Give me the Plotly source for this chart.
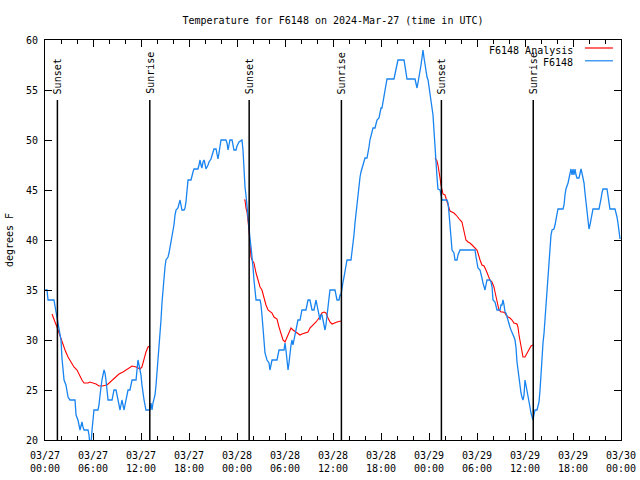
import plotly.graph_objects as go
from datetime import datetime, timedelta

START = datetime(2024, 3, 27, 0, 0)

# Observed station temperature (hours since 2024-03-27 00:00 UTC, degrees F)
obs_hours = [0.0, 0.25, 0.38, 1.12, 1.38, 1.62, 1.88, 2.0, 2.12, 2.38, 2.62, 2.88, 3.12, 3.75, 3.88, 4.12, 4.38, 4.62, 4.75, 4.88,
             5.38, 5.5, 5.62, 5.75, 5.88, 6.0, 6.12, 6.62, 6.75, 6.88, 7.0, 7.12, 7.38, 7.5, 7.62, 7.75, 7.88, 8.38, 8.5, 8.62,
             8.88, 9.0, 9.12, 9.25, 9.38, 9.5, 9.62, 9.75, 9.88, 10.0, 10.12, 10.25, 10.38, 10.62, 10.75, 10.88, 11.38, 11.5, 11.62, 11.75,
             11.88, 12.0, 12.12, 12.25, 12.38, 12.62, 13.12, 13.25, 13.38, 13.5, 13.75, 13.88, 14.0, 14.12, 14.25, 14.38, 14.5, 14.62, 14.75, 14.88,
             15.0, 15.12, 15.38, 15.5, 15.62, 15.75, 15.88, 16.0, 16.12, 16.25, 16.38, 16.62, 16.75, 16.88, 17.0, 17.12, 17.38, 17.5, 17.62, 17.75,
             17.88, 18.25, 18.38, 18.5, 18.62, 19.12, 19.25, 19.38, 19.5, 19.62, 19.75, 19.88, 20.0, 20.12, 20.38, 20.5, 20.75, 21.0, 21.12, 21.38,
             21.5, 21.62, 21.75, 21.88, 22.0, 22.62, 22.75, 22.88, 23.0, 23.12, 23.38, 23.5, 23.62, 23.88, 24.0, 24.25, 24.5, 24.62, 24.75, 24.88,
             25.0, 25.12, 25.25, 25.38, 25.5, 25.62, 25.75, 25.88, 26.0, 26.12, 26.25, 26.38, 26.88, 27.0, 27.12, 27.25, 27.38, 27.5, 27.75, 28.0,
             28.12, 28.25, 28.38, 29.0, 29.12, 29.25, 29.88, 30.0, 30.12, 30.25, 30.38, 30.5, 30.62, 30.75, 30.88, 31.0, 31.12, 31.25, 31.38, 31.5,
             31.62, 31.88, 32.0, 32.12, 32.62, 32.75, 32.88, 33.12, 33.25, 33.38, 33.62, 33.75, 33.88, 34.0, 34.12, 34.25, 34.38, 34.5, 34.62, 34.75,
             34.88, 35.0, 35.12, 35.25, 35.38, 35.5, 35.62, 36.25, 36.38, 36.5, 36.75, 36.88, 37.0, 37.12, 37.25, 37.38, 37.5, 37.62, 37.75, 38.25,
             38.38, 38.5, 38.62, 38.75, 38.88, 39.0, 39.12, 39.25, 39.38, 39.5, 39.62, 39.75, 39.88, 40.0, 40.25, 40.38, 40.5, 40.62, 40.75, 40.88,
             41.0, 41.25, 41.38, 41.5, 41.75, 41.88, 42.0, 42.12, 42.25, 42.38, 42.5, 42.62, 42.75, 43.62, 43.75, 43.88, 44.0, 44.12, 44.88, 45.0,
             45.12, 45.25, 46.25, 46.38, 46.5, 46.62, 46.75, 46.88, 47.0, 47.12, 47.25, 47.38, 47.5, 47.62, 47.75, 47.88, 48.0, 48.12, 48.25, 48.38,
             48.5, 48.62, 48.75, 48.88, 49.0, 49.12, 49.38, 49.5, 49.62, 50.25, 50.38, 50.5, 50.62, 50.75, 50.88, 51.12, 51.25, 51.5, 51.62, 51.88,
             53.75, 53.88, 54.0, 54.12, 54.38, 54.5, 54.62, 54.75, 54.88, 55.0, 55.12, 55.25, 55.62, 55.75, 55.88, 56.0, 56.25, 56.38, 56.5, 56.88,
             57.0, 57.12, 57.25, 57.38, 57.5, 57.62, 57.75, 57.88, 58.0, 58.12, 58.25, 58.38, 58.5, 58.62, 58.75, 58.88, 59.0, 59.12, 59.25, 59.38,
             59.5, 59.62, 59.75, 59.88, 60.0, 60.12, 60.25, 60.38, 60.5, 60.62, 60.75, 60.88, 61.0, 61.12, 61.25, 61.5, 61.62, 61.75, 61.88, 62.0,
             62.12, 62.25, 62.38, 62.5, 62.62, 62.75, 62.88, 63.0, 63.12, 63.25, 63.38, 63.62, 63.75, 63.88, 64.0, 64.12, 64.75, 64.88, 65.0, 65.12,
             65.38, 65.5, 65.62, 65.75, 65.88, 66.0, 66.12, 66.25, 66.38, 66.5, 66.75, 66.88, 67.0, 67.12, 67.25, 67.38, 67.5, 67.62, 67.75, 67.88,
             68.0, 68.12, 68.25, 68.38, 68.5, 69.25, 69.38, 69.5, 69.62, 69.75, 70.25, 70.38, 70.5, 70.62, 71.25, 71.38, 71.5, 71.62, 71.75, 71.88]
obs_temps = [35, 35, 34, 34, 32.8, 31.8, 30.8, 30, 28.2, 26, 25.5, 24.3, 24, 24, 22.5, 22, 21, 21.8, 21.3, 21,
             21, 20.5, 19.5, 19.5, 21, 22.5, 23, 23, 23.5, 24.5, 25.5, 26, 27, 26.7, 26, 25, 24, 24, 24.5, 25,
             25, 24.5, 24, 23.5, 23, 23.5, 24, 23.5, 23, 23.5, 24, 24.5, 25, 25, 25.5, 26, 26, 27, 28, 27.5,
             27, 26.5, 25.5, 24.5, 24, 23, 23, 23.7, 23, 23.7, 24.5, 25.5, 26.7, 27.7, 29.2, 30.7, 32, 33.7, 35.2, 36.5,
             37.3, 38, 38.3, 38.7, 39.2, 39.8, 40.3, 40.8, 41.5, 42.5, 43, 43.2, 43.7, 44, 43.5, 43, 43, 43.2, 43.8, 44.7,
             46, 46, 46.3, 46.8, 47.1, 47.1, 47.5, 48, 47.5, 47.2, 47.8, 48, 47.6, 47.1, 47.5, 47.8, 48.1, 48.7, 49.1, 49.1,
             48.7, 48.1, 48.7, 49.7, 50, 50, 49.7, 49, 49.6, 50, 50, 49.6, 49, 49, 49.4, 49.8, 50, 50, 49, 46.8,
             45.3, 44.5, 43.2, 42, 40.8, 40.2, 39.3, 38.5, 37.3, 36, 34.7, 34, 34, 33.5, 32.5, 31.2, 29.7, 28.7, 28, 27.7,
             27, 27.5, 28, 28, 28.5, 29, 29, 29.7, 29, 27.7, 27, 27.7, 29, 29.5, 30, 29.5, 30, 30.5, 31, 31.5,
             32, 32, 32.5, 33, 33, 33.5, 34, 34, 33.5, 33, 33, 33.5, 34, 33.5, 33, 32.5, 32, 32.5, 32.5, 32,
             31.5, 31, 31.5, 32.5, 33.5, 34.5, 35, 35, 34.5, 34, 34, 34.5, 34.5, 35.3, 35.8, 36.3, 37, 37.5, 38, 38,
             38.7, 39.5, 40.5, 41.7, 42.7, 43.7, 44.7, 45.7, 46.3, 46.8, 47.2, 47.5, 48, 48.2, 48.2, 48.7, 49.3, 50, 50.5, 50.8,
             51.2, 51.2, 51.7, 52, 52.2, 52.8, 53.2, 53.2, 53.8, 54.5, 55.3, 55.8, 56.1, 56.1, 56.7, 57.2, 57.5, 58, 58, 57.5,
             56.7, 56.1, 56.1, 55.7, 55.2, 55.7, 56.2, 56.8, 57.5, 58.2, 59, 58.2, 57.5, 56.8, 56.3, 56, 55.3, 54.7, 54.2, 53.5,
             52.5, 51, 49, 48, 46.3, 45.1, 45, 44.5, 44, 44, 43.7, 42.7, 41.3, 39.7, 39, 38.7, 38, 38, 38.5, 39,
             39, 38.3, 37.7, 37.2, 37, 36.7, 36.2, 35.7, 35.3, 35, 35.5, 36, 36, 35.8, 35.3, 34, 33.8, 33.5, 33, 33,
             33.5, 33.5, 34, 33.5, 32.8, 32.7, 32.3, 31.8, 31.7, 31.3, 31, 30.8, 30.5, 30.3, 30, 29.2, 27.8, 27, 26.5, 25.5,
             24.7, 24.3, 24, 24.5, 26, 25.5, 25, 24.3, 23.7, 23.3, 22.7, 22.3, 22, 22.5, 23, 23, 23.3, 23.8, 25, 27,
             28.5, 29.7, 30.7, 32.2, 33.7, 35.3, 36.7, 38.2, 39.5, 40.5, 41, 41.1, 41.5, 42.2, 42.7, 43.1, 43.1, 43.5, 44.5, 45.1,
             45.7, 46.2, 46.7, 47.1, 46.5, 47.1, 46.5, 47.1, 46.5, 46.2, 46.2, 46.7, 47.1, 46.7, 46.2, 45.7, 44.7, 43.7, 42.7, 41.7,
             41.1, 41.5, 42.2, 42.7, 43.1, 43.1, 43.5, 44.1, 44.7, 45.1, 45.1, 44.3, 43.7, 43.1, 43.1, 42.8, 42.3, 41.7, 40.7, 40.1]

# Analysis temperature (None = gap between nightly analysis periods)
ana_hours = [0.88, 1.0, 1.25, 1.5, 1.75, 2.0, 2.25, 2.5, 2.88, 3.12, 3.62, 4.0, 4.38, 4.62, 4.88, 5.38, 5.62, 6.0, 6.38, 6.75,
             7.12, 7.75, 8.0, 8.38, 8.75, 9.25, 9.75, 10.25, 10.62, 10.88, 11.38, 11.88, 12.12, 12.38, 12.62, 12.88, 13.12, None,
             24.88, 25.0, 25.12, 25.25, 25.5, 25.62, 25.75, 25.88, 26.12, 26.38, 26.62, 26.88, 27.12, 27.38, 27.62, 27.88, 28.38, 28.62, 29.0, 29.25,
             29.5, 29.75, 30.0, 30.25, 30.5, 30.75, 31.0, 31.5, 31.88, 32.12, 32.5, 32.88, 33.12, 33.5, 33.88, 34.25, 34.62, 34.88, 35.12, 35.38,
             35.62, 35.88, 36.12, 36.5, 37.0, None,
             48.75, 49.0, 49.12, 49.25, 49.38, 49.5, 49.62, 49.75, 50.0, 50.12, 50.25, 50.38, 50.5, 50.62, 50.88, 51.12, 51.38, 51.62, 51.88, 52.12,
             52.25, 52.38, 52.5, 52.62, 52.88, 53.12, 53.38, 53.62, 54.0, 54.12, 54.25, 54.38, 54.62, 54.88, 55.12, 55.38, 55.62, 55.88, 56.12, 56.25,
             56.38, 56.5, 56.62, 56.75, 57.0, 57.25, 57.5, 57.62, 57.88, 58.12, 58.38, 58.62, 59.0, 59.12, 59.25, 59.38, 59.5, 59.62, 59.75, 60.0,
             60.25, 60.5, 60.75, 61.0]
ana_temps = [32.6, 32.3, 31.8, 31.3, 30.7, 30.2, 29.7, 29, 28.3, 28, 27.3, 27, 26.3, 26, 25.7, 25.7, 25.8, 25.7, 25.6, 25.4,
             25.4, 25.5, 25.7, 26, 26.3, 26.6, 26.8, 27.1, 27.3, 27.4, 27.3, 27.1, 27.3, 28.2, 28.8, 29.3, 29.4, None,
             44, 44, 43.2, 42.8, 41, 39.3, 38.3, 38, 37.7, 36.7, 36, 35.3, 35, 34.2, 33.5, 33, 32.7, 32.3, 32.1, 31.3,
             30.7, 30, 29.8, 30.3, 30.8, 31.2, 31, 30.7, 30.5, 30.6, 30.7, 30.8, 31.2, 31.5, 31.8, 32.2, 32.7, 32.8, 32.7, 32.2,
             31.8, 31.6, 31.7, 31.8, 31.9, None,
             48.2, 47.9, 47.5, 47, 46.2, 45.5, 45, 44.6, 44.5, 44.2, 43.8, 43.5, 43.2, 42.9, 42.8, 42.7, 42.5, 42.2, 42, 41.8,
             41.3, 40.8, 40.3, 40, 39.8, 39.7, 39.5, 39.3, 39, 38.7, 38.3, 38, 37.5, 37.4, 37, 36.5, 36, 35.8, 35.3, 34.8,
             34.3, 33.8, 33.3, 33, 32.8, 32.8, 32.7, 32.5, 32.3, 32.2, 32, 31.7, 31.6, 31.3, 30.5, 29.8, 29.2, 28.7, 28.3, 28.3,
             28.7, 29.1, 29.4, 29.5]

event_hours = [1.55, 13.1, 25.52, 37.05, 49.55, 61.03]
event_labels = ["Sunset", "Sunrise", "Sunset", "Sunrise", "Sunset", "Sunrise"]

series_names = ["F6148 Analysis", "F6148"]
series_colors = ["#ff0000", "#1884f0"]

y_min, y_max = 20, 60
event_line_top = 54


def to_time(h):
    return None if h is None else START + timedelta(hours=h)


obs_x = [to_time(h) for h in obs_hours]
ana_x = [to_time(h) for h in ana_hours]

FONT = "DejaVu Sans Mono, Liberation Mono, monospace"
FS = 10

fig = go.Figure()
fig.add_trace(go.Scatter(x=ana_x, y=ana_temps, mode="lines", name=series_names[0],
                         line=dict(color=series_colors[0], width=1.1), connectgaps=False))
fig.add_trace(go.Scatter(x=obs_x, y=obs_temps, mode="lines", name=series_names[1],
                         line=dict(color=series_colors[1], width=1.3)))

for h, lab in zip(event_hours, event_labels):
    t = to_time(h)
    fig.add_shape(type="line", xref="x", yref="y", x0=t, x1=t, y0=y_min, y1=event_line_top,
                  line=dict(color="black", width=1.5))
    fig.add_annotation(x=t, y=event_line_top + 0.4, xref="x", yref="y", text=lab, textangle=-90,
                       showarrow=False, xanchor="center", yanchor="bottom",
                       font=dict(family=FONT, size=FS, color="black"))

# gnuplot-style legend (text right-aligned, sample line on the right)
legend_y = [0.975, 0.943]
for i, (name, col) in enumerate(zip(series_names, series_colors)):
    fig.add_annotation(x=0.921, y=legend_y[i], xref="paper", yref="paper", text=name, showarrow=False,
                       xanchor="right", yanchor="middle", font=dict(family=FONT, size=FS, color="black"))
    fig.add_shape(type="line", xref="paper", yref="paper", x0=0.9375, x1=0.986,
                  y0=legend_y[i] + 0.005, y1=legend_y[i] + 0.005, line=dict(color=col, width=1.2))

fig.update_layout(
    width=640, height=480,
    margin=dict(l=45, r=19, t=40, b=40, autoexpand=False),
    paper_bgcolor="white", plot_bgcolor="white",
    showlegend=False,
    font=dict(family=FONT, size=FS, color="black"),
    title=dict(text="Temperature for F6148 on 2024-Mar-27 (time in UTC)", x=0.5, xref="paper",
               y=1 - 20 / 480, yref="container", yanchor="middle", xanchor="center",
               font=dict(family=FONT, size=FS, color="black")),
)
fig.update_xaxes(
    type="date", automargin=False,
    range=[START, START + timedelta(hours=72)],
    dtick=6 * 3600 * 1000, tick0=START,
    tickformat="%m/%d<br>%H:%M",
    ticks="inside", ticklen=7, tickcolor="black", tickwidth=1,
    minor=dict(dtick=2 * 3600 * 1000, ticks="inside", ticklen=4, tickcolor="black", showgrid=False),
    showline=True, linecolor="black", linewidth=1, mirror="allticks",
    showgrid=False, zeroline=False, ticklabelstandoff=6,
    tickfont=dict(family=FONT, size=FS, color="black"),
)
fig.update_yaxes(
    range=[y_min, y_max], dtick=5, tick0=0, automargin=False,
    ticks="inside", ticklen=7, tickcolor="black", tickwidth=1,
    showline=True, linecolor="black", linewidth=1, mirror="allticks",
    showgrid=False, zeroline=False, ticklabelstandoff=4,
    title=dict(text="degrees F", font=dict(family=FONT, size=FS, color="black"), standoff=10),
    tickfont=dict(family=FONT, size=FS, color="black"),
)

fig.write_html("out.html", config={"displayModeBar": False},
               post_script="document.body.style.margin='0px';")
